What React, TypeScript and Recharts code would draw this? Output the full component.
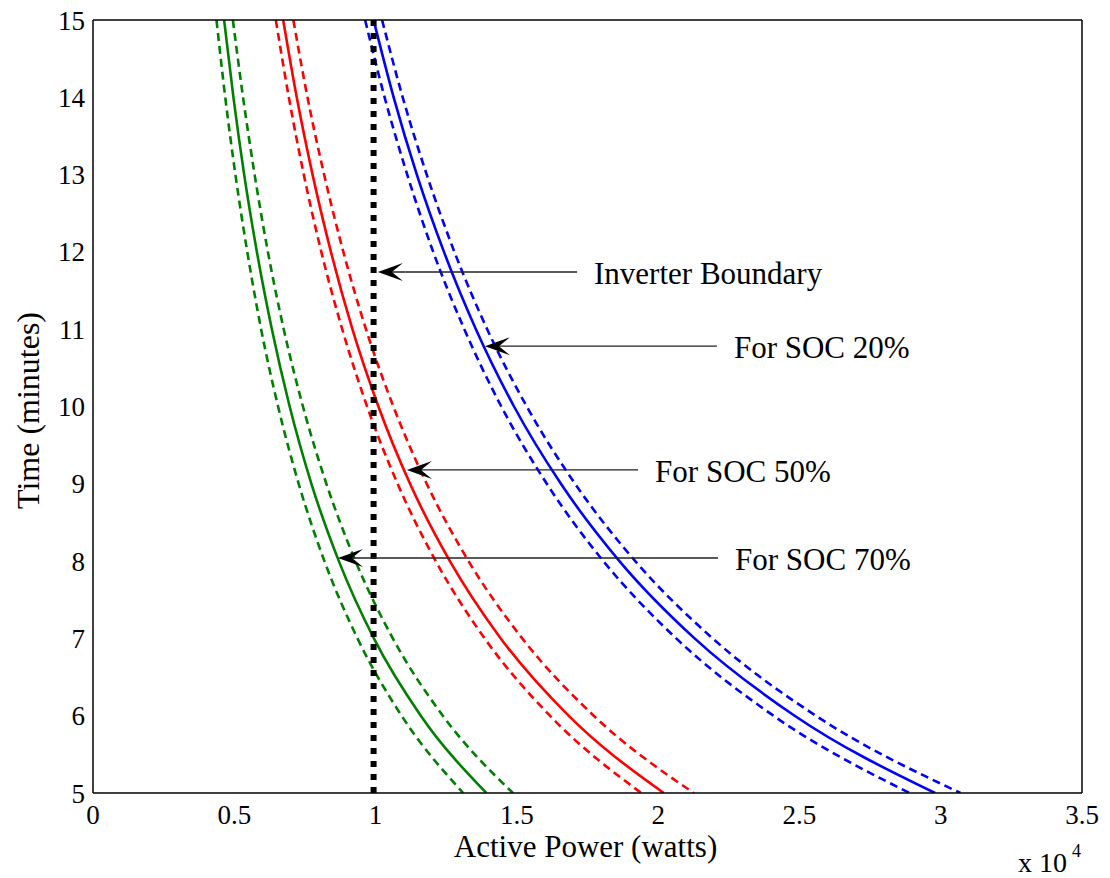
import { LineChart, Line, XAxis, YAxis, ReferenceLine } from "recharts";

// time axis (minutes) shared by every curve
const timeMinutes = [5, 6, 7, 8, 9, 10, 11, 12, 13, 14, 15];

// active power (watts), one entry per time value
const soc70Nominal = [13920, 11600, 9940, 8700, 7730, 6960, 6330, 5800, 5350, 4970, 4640];
const soc70Lower = [13100, 10920, 9360, 8190, 7280, 6550, 5950, 5460, 5040, 4680, 4370];
const soc70Upper = [14860, 12380, 10610, 9290, 8260, 7430, 6750, 6190, 5720, 5310, 4950];

const soc50Nominal = [20200, 16830, 14430, 12630, 11220, 10100, 9180, 8420, 7770, 7210, 6730];
const soc50Lower = [19400, 16170, 13860, 12130, 10780, 9700, 8820, 8080, 7460, 6930, 6470];
const soc50Upper = [21260, 17720, 15190, 13290, 11810, 10630, 9660, 8860, 8180, 7590, 7090];

const soc20Nominal = [29800, 24830, 21290, 18630, 16560, 14900, 13550, 12420, 11460, 10640, 9930];
const soc20Lower = [28900, 24080, 20640, 18060, 16060, 14450, 13140, 12040, 11120, 10320, 9630];
const soc20Upper = [30700, 25580, 21930, 19190, 17060, 15350, 13950, 12790, 11810, 10960, 10230];

const boundaryPower = [9930, 9930];
const boundaryTime = [5, 15];

const powerTicks = [0, 5000, 10000, 15000, 20000, 25000, 30000, 35000];
const timeTicks = [5, 6, 7, 8, 9, 10, 11, 12, 13, 14, 15];

// arrow annotations: time of the arrow, power at the tip and at the tail
const annotationLabels = ["Inverter Boundary", "For SOC 20%", "For SOC 50%", "For SOC 70%"];
const annotationTime = [11.74, 10.78, 9.18, 8.04];
const annotationTip = [10080, 13870, 11110, 8670];
const annotationTail = [17130, 22080, 19290, 22120];

const serif = "'Liberation Serif', 'Times New Roman', serif";

const toSeries = (power: number[], time: number[]) =>
  power.map((p, i) => ({ p, t: time[i] })).reverse();

const curves = [
  { key: "g", data: toSeries(soc70Nominal, timeMinutes), color: "#008000", dash: undefined },
  { key: "gl", data: toSeries(soc70Lower, timeMinutes), color: "#008000", dash: "8 5" },
  { key: "gu", data: toSeries(soc70Upper, timeMinutes), color: "#008000", dash: "8 5" },
  { key: "r", data: toSeries(soc50Nominal, timeMinutes), color: "#ff0000", dash: undefined },
  { key: "rl", data: toSeries(soc50Lower, timeMinutes), color: "#ff0000", dash: "8 5" },
  { key: "ru", data: toSeries(soc50Upper, timeMinutes), color: "#ff0000", dash: "8 5" },
  { key: "b", data: toSeries(soc20Nominal, timeMinutes), color: "#0000ff", dash: undefined },
  { key: "bl", data: toSeries(soc20Lower, timeMinutes), color: "#0000ff", dash: "8 5" },
  { key: "bu", data: toSeries(soc20Upper, timeMinutes), color: "#0000ff", dash: "8 5" },
];

const boundary = boundaryPower.map((p, i) => ({ p, t: boundaryTime[i] }));

function arrowShape(label: string) {
  return (props: any) => {
    const x1 = Number(props.x1);
    const y1 = Number(props.y1);
    const x2 = Number(props.x2);
    const y2 = Number(props.y2);
    return (
      <g>
        <line x1={x1 + 14} y1={y1} x2={x2} y2={y2} stroke="#222" strokeWidth={1.3} />
        <path
          d={`M${x1},${y1} L${x1 + 25},${y1 - 9} L${x1 + 14},${y1} L${x1 + 25},${y1 + 9} Z`}
          fill="#000"
        />
        <text x={x2 + 17} y={y2 + 12} fontSize={31} fontFamily={serif} fill="#000">
          {label}
        </text>
      </g>
    );
  };
}

const tickStyle = { fontSize: 27, fill: "#000", fontFamily: serif };

export default function App() {
  return (
    <div style={{ position: "absolute", left: 0, top: 0, width: 1110, height: 878, background: "#fff" }}>
      <LineChart width={1110} height={878} margin={{ top: 20, right: 28, bottom: 0, left: 0 }}>
        <XAxis
          type="number"
          dataKey="p"
          domain={[0, 35000]}
          ticks={powerTicks}
          allowDataOverflow
          height={85}
          tickLine={false}
          axisLine={false}
          tickSize={0}
          tickMargin={12}
          interval={0}
          tick={tickStyle}
          tickFormatter={(v: number) => String(v / 10000)}
          label={{
            content: (props: any) => {
              const vb = props.viewBox;
              return (
                <g fontFamily={serif} fill="#000">
                  <text x={vb.x + vb.width / 2 - 2} y={vb.y + 64} fontSize={31} textAnchor="middle">
                    Active Power (watts)
                  </text>
                  <text x={1018} y={872} fontSize={28}>
                    x 10
                  </text>
                  <text x={1072} y={857} fontSize={18}>
                    4
                  </text>
                </g>
              );
            },
          }}
        />
        <XAxis
          xAxisId="bottomFrame"
          orientation="bottom"
          type="number"
          dataKey="p"
          domain={[0, 35000]}
          ticks={powerTicks}
          mirror
          tick={false}
          tickSize={8}
          axisLine={{ stroke: "#000", strokeWidth: 1.5 }}
          tickLine={{ stroke: "#000" }}
        />
        <XAxis
          xAxisId="topFrame"
          orientation="top"
          type="number"
          dataKey="p"
          domain={[0, 35000]}
          ticks={powerTicks}
          mirror
          tick={false}
          tickSize={8}
          axisLine={{ stroke: "#000", strokeWidth: 1.5 }}
          tickLine={{ stroke: "#000" }}
        />
        <YAxis
          type="number"
          domain={[5, 15]}
          ticks={timeTicks}
          allowDataOverflow
          width={93}
          tickLine={false}
          axisLine={false}
          tickSize={0}
          tickMargin={8}
          interval={0}
          tick={tickStyle}
          label={{
            content: (props: any) => {
              const vb = props.viewBox;
              const cx = 28;
              const cy = vb.y + vb.height / 2 + 4;
              return (
                <text
                  x={cx}
                  y={cy}
                  transform={`rotate(-90 ${cx} ${cy})`}
                  fontSize={32}
                  fontFamily={serif}
                  fill="#000"
                  textAnchor="middle"
                  dominantBaseline="central"
                >
                  Time (minutes)
                </text>
              );
            },
          }}
        />
        <YAxis
          yAxisId="leftFrame"
          orientation="left"
          type="number"
          domain={[5, 15]}
          ticks={timeTicks}
          mirror
          tick={false}
          tickSize={8}
          axisLine={{ stroke: "#000", strokeWidth: 1.5 }}
          tickLine={{ stroke: "#000" }}
        />
        <YAxis
          yAxisId="rightFrame"
          orientation="right"
          type="number"
          domain={[5, 15]}
          ticks={timeTicks}
          mirror
          tick={false}
          tickSize={8}
          axisLine={{ stroke: "#000", strokeWidth: 1.5 }}
          tickLine={{ stroke: "#000" }}
        />

        {curves.map((c) => (
          <Line
            key={c.key}
            data={c.data}
            dataKey="t"
            type="monotone"
            stroke={c.color}
            strokeWidth={2.6}
            strokeDasharray={c.dash}
            dot={false}
            activeDot={false}
            isAnimationActive={false}
          />
        ))}
        <Line
          data={boundary}
          dataKey="t"
          type="linear"
          stroke="#000"
          strokeWidth={6}
          strokeDasharray="6 7"
          dot={false}
          activeDot={false}
          isAnimationActive={false}
        />

        {annotationLabels.map((label, i) => (
          <ReferenceLine
            key={label}
            segment={[
              { x: annotationTip[i], y: annotationTime[i] },
              { x: annotationTail[i], y: annotationTime[i] },
            ]}
            ifOverflow="visible"
            shape={arrowShape(label)}
          />
        ))}
      </LineChart>
    </div>
  );
}
